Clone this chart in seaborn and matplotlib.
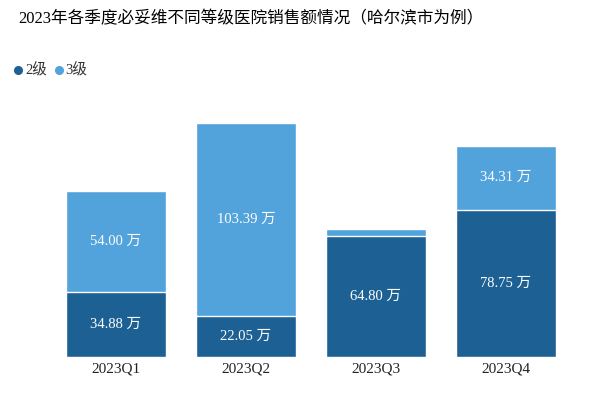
import pandas as pd
import seaborn as sns
import matplotlib.pyplot as plt
from matplotlib.lines import Line2D

# Data (unit: 万)
quarters = ['2023Q1', '2023Q2', '2023Q3', '2023Q4']
level2 = [34.88, 22.05, 64.80, 78.75]
level3 = [54.00, 103.39, 3.50, 34.31]
show_label3 = [True, True, False, True]

dark = '#1d6194'
light = '#52a2dc'

sns.set_theme(style='white')
plt.rcParams['font.family'] = ['Liberation Serif', 'Noto Sans CJK SC', 'DejaVu Sans']

df = pd.DataFrame({'Quarter': quarters, '2级': level2, '3级': level3})
df['total'] = df['2级'] + df['3级']

fig = plt.figure(figsize=(5.93, 3.98), dpi=100)
ax = fig.add_axes([51 / 593, 41 / 398, 520 / 593, 243 / 398])

# stacked: draw total in light colour, then level 2 on top of it
sns.barplot(data=df, x='Quarter', y='total', color=light, width=0.77,
            saturation=1, ax=ax)
sns.barplot(data=df, x='Quarter', y='2级', color=dark, width=0.77,
            saturation=1, ax=ax)

for i, (a, b) in enumerate(zip(level2, level3)):
    ax.text(i, a / 2, f'{a:.2f} 万', ha='center', va='center',
            color='white', fontsize=10.5)
    if show_label3[i]:
        ax.text(i, a + b / 2, f'{b:.2f} 万', ha='center', va='center',
                color='white', fontsize=10.5)

ax.set_ylim(0, 130)
ax.set_xlim(-0.5, 3.5)
ax.set_xlabel('')
ax.set_ylabel('')
ax.set_yticks([])
ax.tick_params(axis='x', labelsize=11, pad=4, length=0, colors='#222222')
for s in ax.spines.values():
    s.set_visible(False)

fig.text(18 / 593, 1 - 19 / 398, '2023年各季度必妥维不同等级医院销售额情况（哈尔滨市为例）',
         fontsize=12, va='center', ha='left', color='black')

# legend
ly = 1 - 70 / 398
for cx, tx, col, lab in [(18, 25, dark, '2级'), (59, 65, light, '3级')]:
    fig.add_artist(Line2D([cx / 593], [ly], marker='o', markersize=5.5,
                          color=col, linestyle='none', transform=fig.transFigure))
    fig.text(tx / 593, ly, lab, color='#333333', fontsize=10.5, va='center')

fig.savefig('out.png', dpi=100)
